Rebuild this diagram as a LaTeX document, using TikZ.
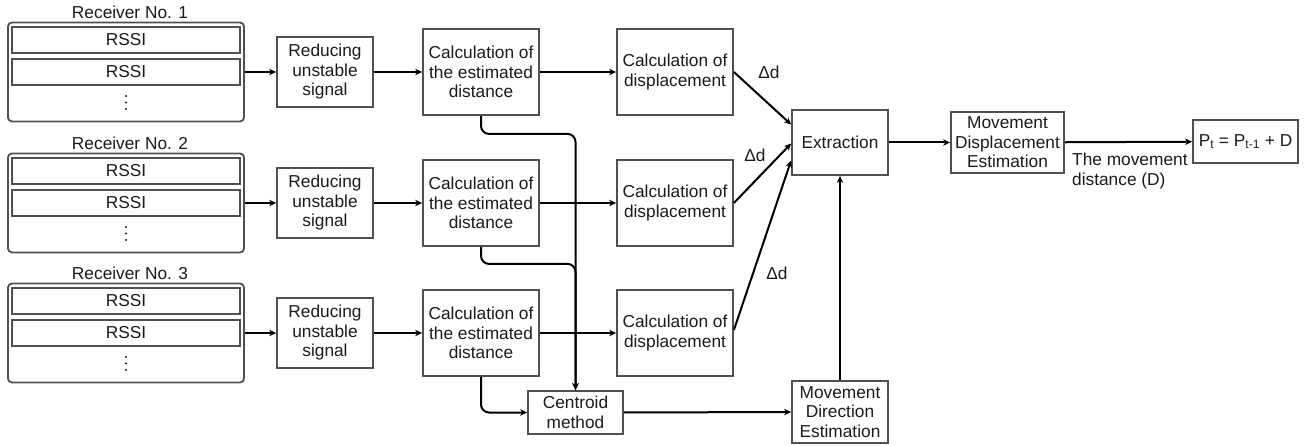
\documentclass[tikz,border=0pt]{standalone}
\usepackage{fontspec}
\setmainfont{Liberation Sans}
\usetikzlibrary{arrows.meta}
\definecolor{boxgray}{HTML}{505050}
\definecolor{txt}{HTML}{1a1a1a}
\begin{document}
\begin{tikzpicture}[x=1pt,y=-1pt,
  every node/.style={font=\fontsize{17.3}{19.5}\selectfont, text=txt},
  blk/.style={draw=boxgray, line width=1.8pt, align=center, inner sep=0pt},
  recv/.style={draw=boxgray, line width=1.8pt, rounded corners=4pt, minimum width=236pt, minimum height=99pt, inner sep=0pt},
  rssi/.style={draw=boxgray, line width=1.8pt, minimum width=228pt, minimum height=26pt, inner sep=0pt},
  arr/.style={-{Stealth[length=7pt,width=6.5pt]}, line width=2pt, black},
  lbl/.style={inner sep=0pt}
]
\useasboundingbox (0,0) rectangle (1315,446);

% receivers
\foreach \i/\c in {1/72,2/203,3/333}{
  \node[recv] (rec\i) at (126,\c) {};
  \node[lbl] (rlab\i) at (130,\c-60) {Receiver No. \i};
  \node[rssi] (rs\i a) at (126,\c-32) {RSSI};
  \node[rssi] (rs\i b) at (126,\c) {RSSI};
  \foreach \dy in {24,30.5,37}{\fill[txt] (126,\c+\dy) circle (1.2pt);}
  \node[blk, minimum width=96pt, minimum height=70pt] (red\i) at (325,\c) {Reducing\\unstable\\signal};
  \node[blk, minimum width=116pt, minimum height=86pt] (calc\i) at (481,\c) {Calculation of\\the estimated\\distance};
  \node[blk, minimum width=116pt, minimum height=86pt] (disp\i) at (675,\c) {Calculation of\\displacement};
  \draw[arr] (rec\i) -- (red\i);
  \draw[arr] (red\i) -- (calc\i);
  \draw[arr] (calc\i) -- (disp\i);
}

\node[blk, minimum width=96pt, minimum height=65pt] (ext) at (840,142.5) {Extraction};
\node[blk, minimum width=113pt, minimum height=61pt] (mde) at (1007.5,142.5) {Movement\\Displacement\\Estimation};
\node[blk, minimum width=105pt, minimum height=43pt] (pt) at (1245.5,141.5) {P\textsubscript{t} = P\textsubscript{t-1} + D};
\node[blk, minimum width=95pt, minimum height=43pt] (cent) at (575.5,412.5) {Centroid\\method};
\node[blk, minimum width=96pt, minimum height=62pt] (mdir) at (840,412) {Movement\\Direction\\Estimation};

% displacement to extraction
\draw[arr] (disp1.east) -- ([yshift=18pt]ext.west);
\draw[arr] (disp2.east) -- ([yshift=-1pt]ext.west);
\draw[arr] ([yshift=3pt]disp3.east) -- ([yshift=-18pt]ext.west);
\node[lbl] (dd1) at (769,72) {Δd};
\node[lbl] (dd2) at (755,155) {Δd};
\node[lbl] (dd3) at (777,273) {Δd};

\draw[arr] (ext) -- (mde);
\draw[arr] (mde) -- (pt);
\node[lbl, anchor=west, align=left] (mvd) at (1072,171) {The movement\\distance (D)};

% centroid
\draw[arr, rounded corners=8pt] (calc1.south) -- ++(0,18) -| (cent.north);
\draw[arr, rounded corners=8pt] (calc2.south) -- ++(0,17) -| (cent.north);
\draw[arr, rounded corners=8pt] (calc3.south) |- (cent.west);
\draw[arr] (cent) -- (mdir);
\draw[arr] (mdir) -- (ext);
\end{tikzpicture}
\end{document}
